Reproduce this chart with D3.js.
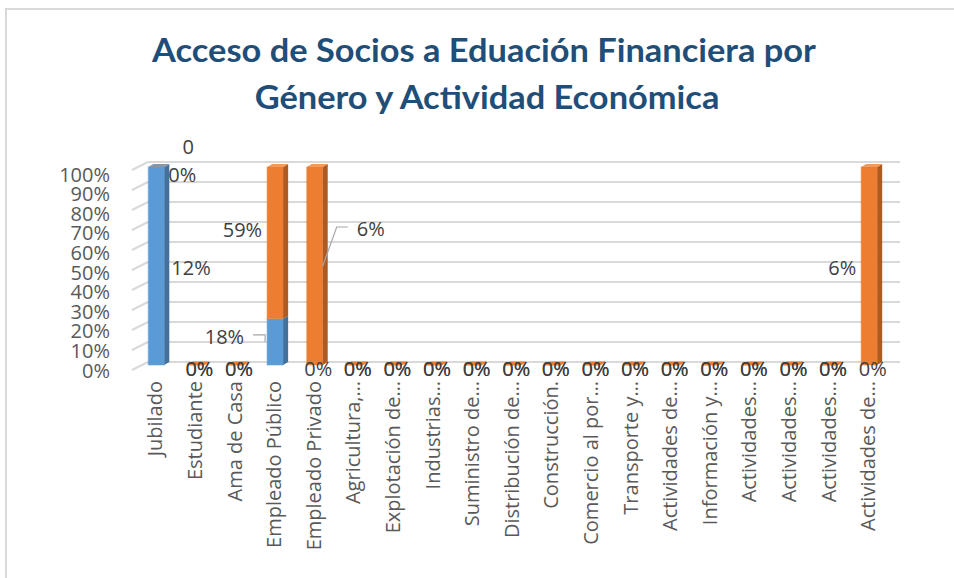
<!DOCTYPE html>
<html><head><meta charset="utf-8">
<script src="https://cdn.jsdelivr.net/npm/d3@7"></script>
<style>body{margin:0;background:#fff}svg{display:block}</style>
</head><body>
<svg id="c" width="954" height="578"></svg>
<script>
// ---------- DATA ----------
const titleLines = ["Acceso de Socios a Eduación Financiera por", "Género y Actividad Económica"];
const categories = ["Jubilado","Estudiante","Ama de Casa","Empleado Público","Empleado Privado",
  "Agricultura,…","Explotación de…","Industrias…","Suministro de…","Distribución de…",
  "Construcción.","Comercio al por…","Transporte y…","Actividades de…","Información y…",
  "Actividades…","Actividades…","Actividades…","Actividades de…"];
const seriesNames = ["Serie 1","Serie 2"];
const blueValues   = [12,0,0,18,0,0,0,0,0,0,0,0,0,0,0,0,0,0,0];
const orangeValues = [0,0,0,59,6,0,0,0,0,0,0,0,0,0,0,0,0,0,6];
const thirdValues  = [0,null,null,null,null,null,null,null,null,null,null,null,null,null,null,null,null,null,null];
const yTicks = [0,10,20,30,40,50,60,70,80,90,100];

// ---------- SETUP ----------
const svg = d3.select("#c");
const colors = ["#5B9BD5","#ED7D31"];
const sideColors = ["#41719C","#AE5A21"];
const lidColors = ["#7EB1E0","#F19A5E"];

svg.append("rect").attr("x",6).attr("y",9).attr("width",1000).attr("height",1000)
  .attr("fill","none").attr("stroke","#d9d9d9").attr("stroke-width",2);

const idx = d3.range(categories.length);
const x = d3.scaleBand().domain(idx).range([136.5, 889]).padding(0);
const yBar  = d3.scaleLinear().domain([0,1]).range([365,167]);
const yBack = d3.scaleLinear().domain([0,100]).range([362,162]);
const yAxisS = d3.scaleLinear().domain([0,100]).range([370,174]);
const depthX = 16, depthY = 8;
const barW = 16, bdx = 5, bdy = 3;

// gridlines (back wall + left wall)
const grid = svg.append("g");
yTicks.forEach(t=>{
  const yb = yBack(t);
  grid.append("line").attr("x1",148).attr("x2",900).attr("y1",yb).attr("y2",yb)
    .attr("stroke","#d9d9d9").attr("stroke-width",2);
  grid.append("line").attr("x1",148-depthX).attr("x2",148).attr("y1",yb+depthY).attr("y2",yb)
    .attr("stroke","#d9d9d9").attr("stroke-width",2);
});

// y axis
const ax = svg.append("g").attr("transform","translate(110,0)")
  .call(d3.axisLeft(yAxisS).tickValues(yTicks).tickSize(0).tickPadding(0).tickFormat(d=>d+"%"));
ax.select(".domain").remove();
ax.selectAll("text").attr("font-family","'Open Sans',sans-serif").attr("font-size",20)
  .attr("fill","#595959").attr("dy","0.35em");

// bars
const bars = svg.append("g");
idx.forEach(i=>{
  const vals = [blueValues[i], orangeValues[i]];
  const total = vals[0]+vals[1];
  const x0 = x(i) + x.bandwidth()/2 - 8;
  if (total === 0) {
    const yb = yBar(0);
    bars.append("path").attr("d",`M${x0},${yb}L${x0+bdx},${yb-bdy}L${x0+barW+bdx},${yb-bdy}L${x0+barW},${yb}Z`)
      .attr("fill",colors[1]).attr("stroke",colors[1]).attr("stroke-width",1);
    return;
  }
  let acc = 0, topIdx = -1;
  vals.forEach((v,s)=>{
    const s0 = acc/total, s1 = (acc+v)/total;
    acc += v;
    if (v <= 0) return;
    topIdx = s;
    const ya = yBar(s1), yb = yBar(s0);
    bars.append("rect").attr("x",x0).attr("y",ya).attr("width",barW).attr("height",yb-ya).attr("fill",colors[s])
      .attr("stroke",colors[s]).attr("stroke-opacity",0.35).attr("stroke-width",1.5);
    bars.append("path").attr("d",`M${x0+barW},${ya}L${x0+barW+bdx},${ya-bdy}L${x0+barW+bdx},${yb-bdy}L${x0+barW},${yb}Z`)
      .attr("fill",sideColors[s]);
  });
  const yt = yBar(1);
  const lid = vals[1] === 0 ? "#8a96a3" : lidColors[topIdx];
  bars.append("path").attr("d",`M${x0},${yt}L${x0+bdx},${yt-bdy}L${x0+barW+bdx},${yt-bdy}L${x0+barW},${yt}Z`)
    .attr("fill",lid);
});

// data labels
const lab = svg.append("g").attr("font-family","'Open Sans',sans-serif").attr("font-size",20).attr("fill","#404040");
const leaders = svg.append("g").attr("stroke","#a6a6a6").attr("fill","none").attr("stroke-width",1.2);
function txt(t,xx,yy,anchor){ lab.append("text").attr("x",xx).attr("y",yy).attr("dy","0.35em").attr("text-anchor",anchor).text(t); }
idx.forEach(i=>{
  const vals = [blueValues[i], orangeValues[i]];
  const total = vals[0]+vals[1];
  const cx = x(i)+x.bandwidth()/2;
  const x0 = cx - 8;
  let acc = 0;
  vals.forEach((v,s)=>{
    const s0 = total ? acc/total : 0, s1 = total ? (acc+v)/total : 0;
    acc += v;
    const label = v + "%";
    const mid = yBar((s0+s1)/2);
    if (v === 0) {
      if (s0 >= 1) txt(label, x0+barW+4, yBar(1)+8, "start");
      else txt(label, cx+3.5, yBar(0)+4, "middle");
      return;
    }
    if (i === 0) txt(label, x0+barW+bdx+2, mid+2, "start");
    else if (i === 3 && s === 1) txt(label, x0-5, mid-13, "end");
    else if (i === 3 && s === 0) {
      txt(label, x0-23, mid-5, "end");
      leaders.append("path").attr("d",`M${x0-14},${mid-7}L${x0-2},${mid-7}L${x0-2},${mid}`);
    }
    else if (i === 4) {
      txt(label, x0+barW+34, mid-37, "start");
      leaders.append("path").attr("d",`M${x0+barW+25},${mid-39}L${x0+barW+14},${mid-39}L${x0+barW},${mid}`);
    }
    else txt(label, x0-5, mid+2, "end");
  });
  if (thirdValues[i] !== null) txt(String(thirdValues[i]), cx+32, yBar(1)-20, "middle");
});

// category labels
const cl = svg.append("g").attr("font-family","'Open Sans',sans-serif").attr("font-size",20).attr("fill","#595959");
idx.forEach(i=>{
  const cx = x(i)+x.bandwidth()/2 - 1;
  cl.append("text").attr("transform",`translate(${cx},381) rotate(-90)`).attr("dy","0.35em")
    .attr("text-anchor","end").text(categories[i]);
});

// title
const tg = svg.append("g").attr("font-family","Lato,'Open Sans',sans-serif").attr("font-weight","bold")
  .attr("font-size",32).attr("fill","#1F4E79");
const targets = [[484,62,664],[487,109,466]];
const t1 = tg.append("text").attr("text-anchor","middle").text(titleLines[0]);
const w1 = t1.node().getComputedTextLength();
const sx = targets[0][2]/w1;
titleLines.forEach((t,k)=>{
  const el = k===0 ? t1 : tg.append("text").attr("text-anchor","middle").text(t);
  el.attr("transform",`translate(${targets[k][0]},${targets[k][1]}) scale(${sx},1)`);
});
</script>
</body></html>
